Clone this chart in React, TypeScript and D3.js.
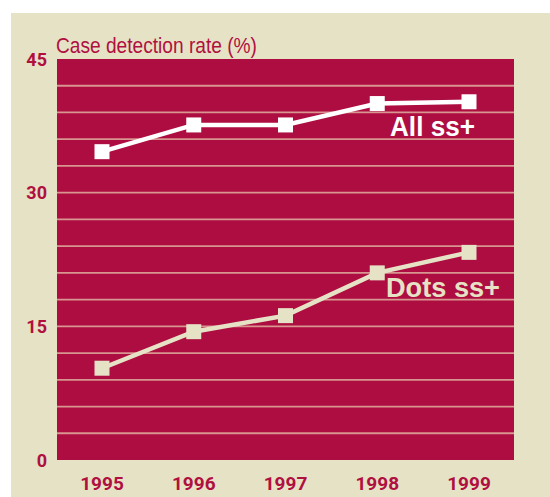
import React from "react";
import * as d3 from "d3";

const years = ["1995", "1996", "1997", "1998", "1999"];
const allSS = [34.6, 37.6, 37.6, 40.0, 40.2];
const dotsSS = [10.3, 14.4, 16.2, 21.0, 23.3];
const yTicks = [0, 15, 30, 45];
const gridValues = d3.range(3, 45, 3);

const W = 550;
const H = 497;
const crimson = "#ad0d40";
const beige = "#e6e2c5";
const gridColor = "#d9958f";
const textCol = "#b0103f";

export default function App() {
  const left = 57, right = 514, top = 59, bottom = 460;
  const x = d3.scalePoint<string>().domain(years).range([102, 469]);
  const y = d3.scaleLinear().domain([0, 45]).range([bottom, top]);
  const line = d3
    .line<number>()
    .x((_, i) => x(years[i]) as number)
    .y((d) => y(d));
  const cond = "'Liberation Sans', Arial, sans-serif";
  const bold = "Roboto, 'Open Sans', sans-serif";
  const series = [
    { data: allSS, color: "#ffffff" },
    { data: dotsSS, color: beige },
  ];
  return (
    <svg
      width={W}
      height={H}
      style={{ position: "absolute", left: 0, top: 0 }}
    >
      <rect x={0} y={0} width={W} height={H} fill="#ffffff" />
      <rect x={11} y={13} width={W - 11} height={H - 13} fill={beige} />
      <rect x={left} y={top} width={right - left} height={bottom - top} fill={crimson} />
      {gridValues.map((v) => (
        <line
          key={v}
          x1={left}
          x2={right}
          y1={y(v)}
          y2={y(v)}
          stroke={gridColor}
          strokeWidth={1.8}
        />
      ))}
      {yTicks.map((t) => (
        <text
          key={t}
          x={47}
          y={y(t) + 6.5}
          textAnchor="end"
          fill={textCol}
          fontFamily={bold}
          fontWeight="bold"
          fontSize={18}
        >
          {t}
        </text>
      ))}
      {years.map((yr) => (
        <text
          key={yr}
          x={x(yr)}
          y={489.5}
          textAnchor="middle"
          fill={textCol}
          fontFamily={bold}
          fontWeight="bold"
          fontSize={19}
        >
          {yr}
        </text>
      ))}
      <text
        x={56}
        y={53}
        fill={textCol}
        fontFamily={cond}
        fontSize={22.5}
        textLength={201}
        lengthAdjust="spacingAndGlyphs"
      >
        Case detection rate (%)
      </text>
      {series.map((s, si) => (
        <g key={si}>
          <path d={line(s.data) || ""} fill="none" stroke={s.color} strokeWidth={4.5} />
          {s.data.map((v, i) => (
            <rect
              key={i}
              x={(x(years[i]) as number) - 7.5}
              y={y(v) - 7.5}
              width={15}
              height={15}
              fill={s.color}
            />
          ))}
        </g>
      ))}
      <text
        x={390}
        y={136}
        fill="#ffffff"
        fontFamily={cond}
        fontWeight="bold"
        fontSize={27}
        textLength={85}
        lengthAdjust="spacingAndGlyphs"
      >
        All ss+
      </text>
      <text
        x={386}
        y={297}
        fill={beige}
        fontFamily={cond}
        fontWeight="bold"
        fontSize={27}
        textLength={114}
        lengthAdjust="spacingAndGlyphs"
      >
        Dots ss+
      </text>
    </svg>
  );
}
